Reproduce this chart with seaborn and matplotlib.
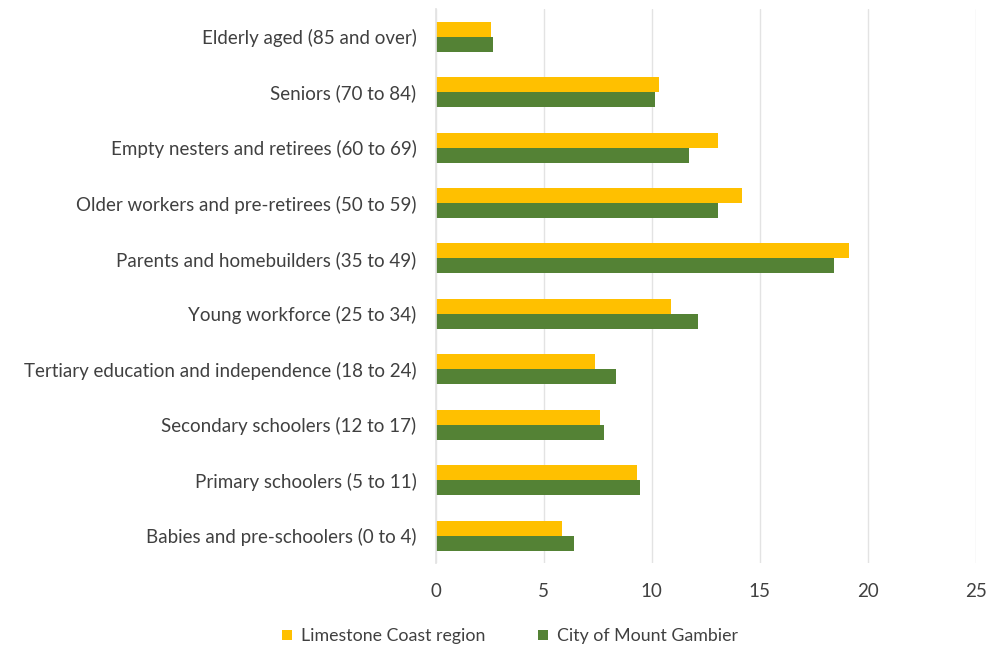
import matplotlib
matplotlib.use("Agg")
import matplotlib.pyplot as plt
from matplotlib.patches import Patch
import seaborn as sns
import pandas as pd

categories = [
    "Elderly aged (85 and over)",
    "Seniors (70 to 84)",
    "Empty nesters and retirees (60 to 69)",
    "Older workers and pre-retirees (50 to 59)",
    "Parents and homebuilders (35 to 49)",
    "Young workforce (25 to 34)",
    "Tertiary education and independence (18 to 24)",
    "Secondary schoolers (12 to 17)",
    "Primary schoolers (5 to 11)",
    "Babies and pre-schoolers (0 to 4)",
]
limestone_coast = [2.56, 10.34, 13.05, 14.19, 19.13, 10.88, 7.36, 7.58, 9.33, 5.86]
mount_gambier = [2.64, 10.15, 11.74, 13.05, 18.43, 12.15, 8.34, 7.81, 9.46, 6.39]
series_names = ["Limestone Coast region", "City of Mount Gambier"]
x_ticks = [0, 5, 10, 15, 20, 25]

colors = ["#FFC000", "#548235"]

df = pd.DataFrame({
    "category": categories * 2,
    "value": limestone_coast + mount_gambier,
    "series": [series_names[0]] * len(categories) + [series_names[1]] * len(categories),
})

sns.set_theme(style="white")
plt.rcParams["font.family"] = ["Lato", "DejaVu Sans"]

fig = plt.figure(figsize=(9.94, 6.46), dpi=100)
ax = fig.add_axes([0.4385, 0.128, 0.543, 0.858])

sns.barplot(
    data=df, y="category", x="value", hue="series", order=categories,
    hue_order=series_names, palette=colors, orient="h", width=0.54,
    saturation=1, legend=False, linewidth=0, ax=ax,
)

fs = 13.5
ax.set_xlim(0, 25)
ax.set_xticks(x_ticks)
ax.set_xticklabels([str(t) for t in x_ticks], fontsize=fs, color="#404040")
ax.tick_params(axis="y", labelsize=fs, labelcolor="#404040", length=0, pad=14)
ax.tick_params(axis="x", length=0, pad=14)
ax.set_xlabel("")
ax.set_ylabel("")
ax.xaxis.grid(True, color="#E3E3E3", linewidth=1)
ax.set_axisbelow(True)
for side in ["top", "right", "bottom"]:
    ax.spines[side].set_visible(False)
ax.spines["left"].set_color("#E3E3E3")

handles = [Patch(facecolor=c, edgecolor="none") for c in colors]
fig.legend(
    handles, series_names, loc="lower center", bbox_to_anchor=(0.513, -0.022),
    ncol=2, frameon=False, fontsize=12.8, handlelength=0.55, handleheight=0.55,
    columnspacing=3.0, handletextpad=0.5, labelcolor="#404040",
)

fig.savefig("out.png", dpi=100)
